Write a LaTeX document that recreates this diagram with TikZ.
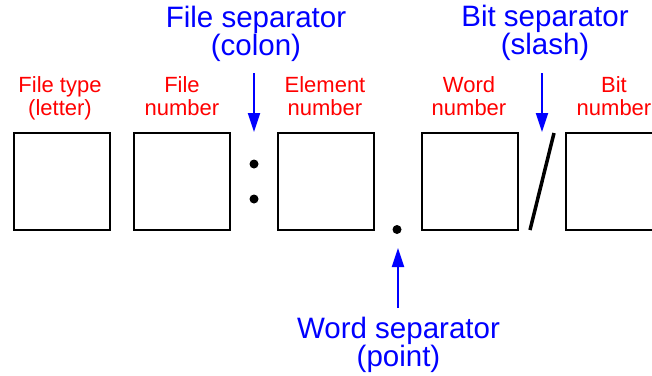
\documentclass[tikz,border=0pt]{standalone}
\usepackage{fontspec}
\setmainfont{Liberation Sans}
\usetikzlibrary{arrows.meta}
\begin{document}
\begin{tikzpicture}[x=1pt,y=-1pt,
  fieldbox/.style={draw=black,line width=2pt,minimum width=96.5pt,minimum height=96.5pt,inner sep=0pt},
  redlbl/.style={text=red,font=\fontsize{22}{23.5}\selectfont,align=center,anchor=base,inner sep=0pt},
  bluelbl/.style={text=blue,font=\fontsize{29.5}{28}\selectfont,align=center,anchor=base,inner sep=0pt},
  sepdot/.style={circle,fill=black,inner sep=0pt,minimum size=9pt},
  bluearrow/.style={draw=blue,line width=2pt,-{Triangle[length=19pt,width=12pt]}}]
\useasboundingbox (0,0) rectangle (652,375);
% boxes
\node[fieldbox] (b1) at (61.75,181.5) {};
\node[fieldbox] (b2) at (182,181.5) {};
\node[fieldbox] (b3) at (326,181.5) {};
\node[fieldbox] (b4) at (470,181.5) {};
\node[fieldbox] (b5) at (614,181.5) {};
% red labels
\node[redlbl] (l1) at (60,115.5) {File type\\(letter)};
\node[redlbl] (l2) at (182,115.5) {File\\number};
\node[redlbl] (l3) at (325,115.5) {Element\\number};
\node[redlbl] (l4) at (469,115.5) {Word\\number};
\node[redlbl] (l5) at (614,115.5) {Bit\\number};
% separators
\node[sepdot] (c1) at (254,164) {};
\node[sepdot] (c2) at (254,199) {};
\node[sepdot] (pt) at (397,229.5) {};
\coordinate (s1) at (530,230);
\coordinate (s2) at (554,133);
\draw[line width=3.5pt] (s1) -- (s2);
% blue labels
\node[bluelbl] (fs) at (256,55) {File separator\\(colon)};
\node[bluelbl] (bs) at (545,54) {Bit separator\\(slash)};
\node[bluelbl] (ws) at (398.5,366) {Word separator\\(point)};
% arrows
\coordinate (fsA) at (254,73);
\coordinate (fsB) at (254,132);
\coordinate (bsA) at (542,73);
\coordinate (bsB) at (542,132);
\coordinate (wsA) at (398,308);
\coordinate (wsB) at (398,248);
\draw[bluearrow] (fsA) -- (fsB);
\draw[bluearrow] (bsA) -- (bsB);
\draw[bluearrow] (wsA) -- (wsB);
\end{tikzpicture}
\end{document}
